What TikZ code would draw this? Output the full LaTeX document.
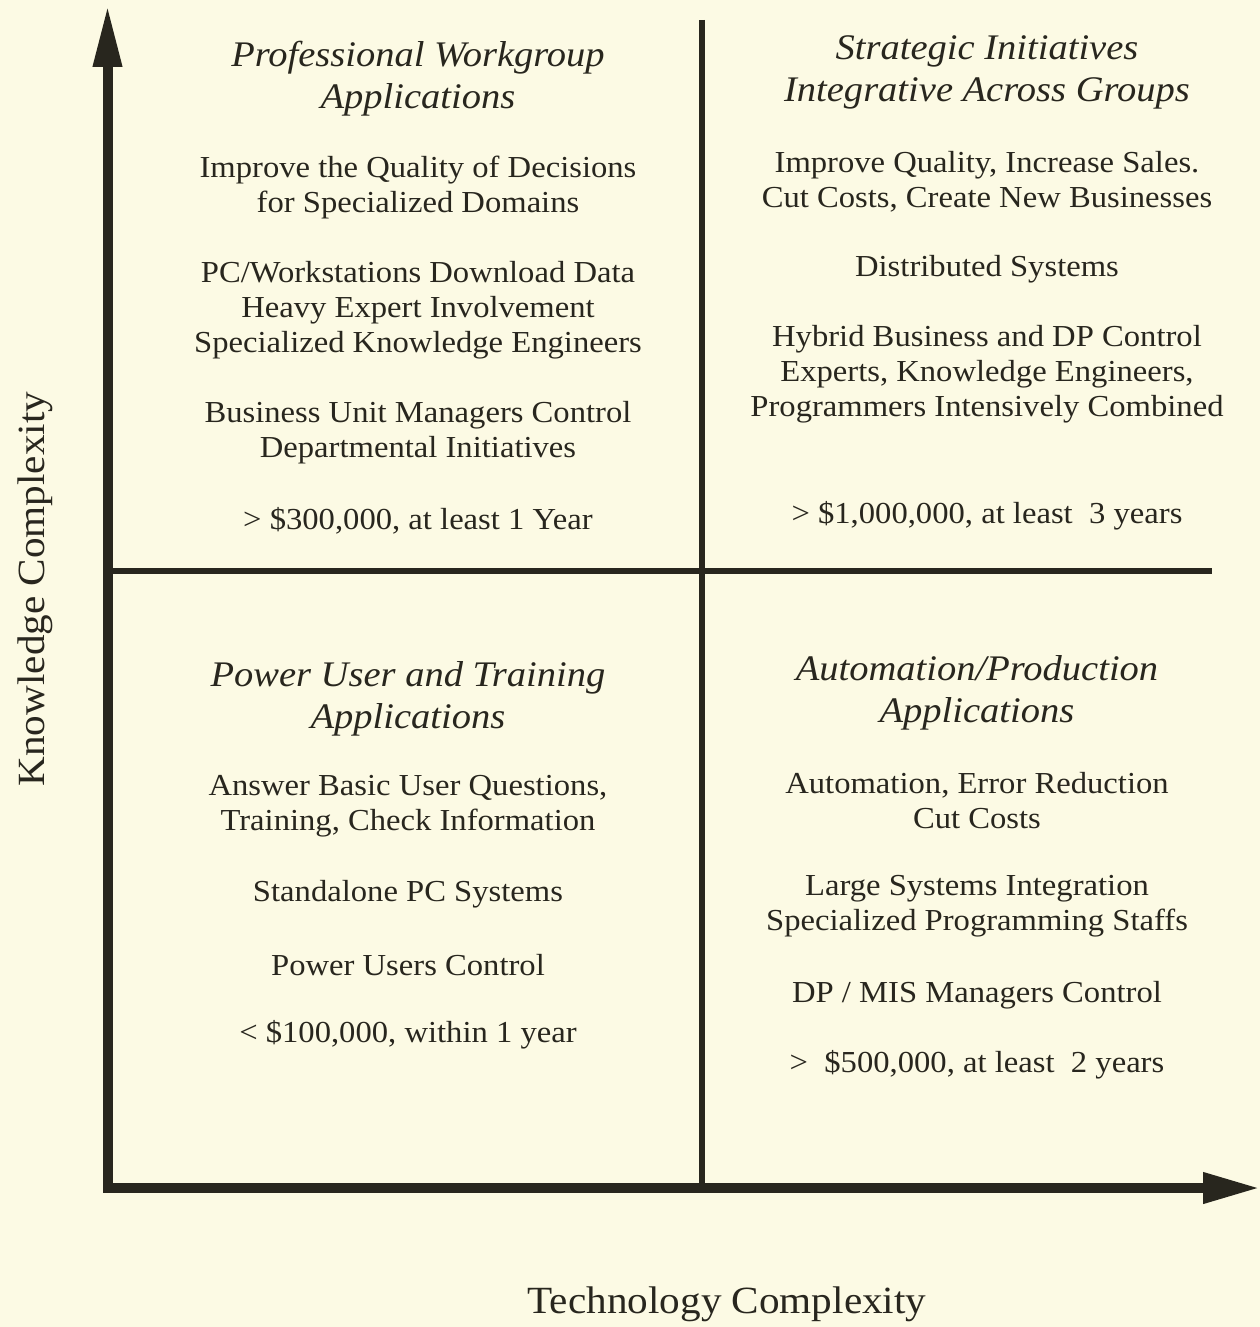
\documentclass[tikz,border=0pt]{standalone}
\usepackage{fontspec}
\setmainfont{Liberation Serif}[FakeStretch=1.07]
\usetikzlibrary{arrows.meta}
\definecolor{bg}{RGB}{252,250,228}
\definecolor{ink}{RGB}{40,38,30}
\tikzset{
  body/.style={align=center, text=ink, inner sep=0pt, yshift=-3pt, font=\fontsize{30.5}{35}\selectfont},
  ttl/.style={align=center, text=ink, inner sep=0pt, yshift=-3pt, font=\fontsize{36}{42}\selectfont\itshape},
  axlab/.style={text=ink, inner sep=0pt, font=\fontsize{38.5}{44}\selectfont},
  axisline/.style={draw=ink, line width=10pt, line join=miter},
  divline/.style={draw=ink, line width=6pt}
}
\begin{document}
\begin{tikzpicture}[x=1pt,y=-1pt]
\fill[bg] (0,0) rectangle (1260,1327);
\useasboundingbox (0,0) rectangle (1260,1327);
% axes
\coordinate (O) at (107.5,1188);
\coordinate (ytip) at (107.5,5);
\coordinate (xtip) at (1260,1188);
\draw[axisline, {Triangle[length=62pt,width=27pt]}-{Triangle[length=57pt,width=29pt]}] (ytip) -- (O) -- (xtip);
% quadrant dividers
\coordinate (vtop) at (702,20);
\coordinate (vbot) at (702,1188);
\coordinate (hl) at (108,571);
\coordinate (hr) at (1212,571);
\draw[divline] (vtop) -- (vbot);
\draw[divline] (hl) -- (hr);
% axis labels
\node[axlab, rotate=90] (ylab) at (35,589) {Knowledge Complexity};
\node[axlab] (xlab) at (727,1304) {Technology Complexity};
% top-left
\node[ttl] (tl1) at (418,76) {Professional Workgroup\\Applications};
\node[body] (tl2) at (418,184.5) {Improve the Quality of Decisions\\for Specialized Domains};
\node[body] (tl3) at (418,307) {PC/Workstations Download Data\\Heavy Expert Involvement\\Specialized Knowledge Engineers};
\node[body] (tl4) at (418,429.5) {Business Unit Managers Control\\Departmental Initiatives};
\node[body] (tl5) at (418,518) {> \$300,000, at least 1 Year};
% top-right
\node[ttl] (tr1) at (987,69) {Strategic Initiatives\\Integrative Across Groups};
\node[body] (tr2) at (987,178.5) {Improve Quality, Increase Sales.\\Cut Costs, Create New Businesses};
\node[body] (tr3) at (987,266) {Distributed Systems};
\node[body] (tr4) at (987,371) {Hybrid Business and DP Control\\Experts, Knowledge Engineers,\\Programmers Intensively Combined};
\node[body] (tr5) at (987,513) {> \$1,000,000, at least\ \ 3 years};
% bottom-left
\node[ttl] (bl1) at (408,696) {Power User and Training\\Applications};
\node[body] (bl2) at (408,803.5) {Answer Basic User Questions,\\Training, Check Information};
\node[body] (bl3) at (408,891) {Standalone PC Systems};
\node[body] (bl4) at (408,962) {Power Users Control};
\node[body] (bl5) at (408,1032) {< \$100,000, within 1 year};
% bottom-right
\node[ttl] (br1) at (977,689.5) {Automation/Production\\Applications};
\node[body] (br2) at (977,797.5) {Automation, Error Reduction\\Cut Costs};
\node[body] (br3) at (977,903.5) {Large Systems Integration\\Specialized Programming Staffs};
\node[body] (br4) at (977,992) {DP / MIS Managers Control};
\node[body] (br5) at (977,1062) {>\ \ \$500,000, at least\ \ 2 years};
\end{tikzpicture}
\end{document}
